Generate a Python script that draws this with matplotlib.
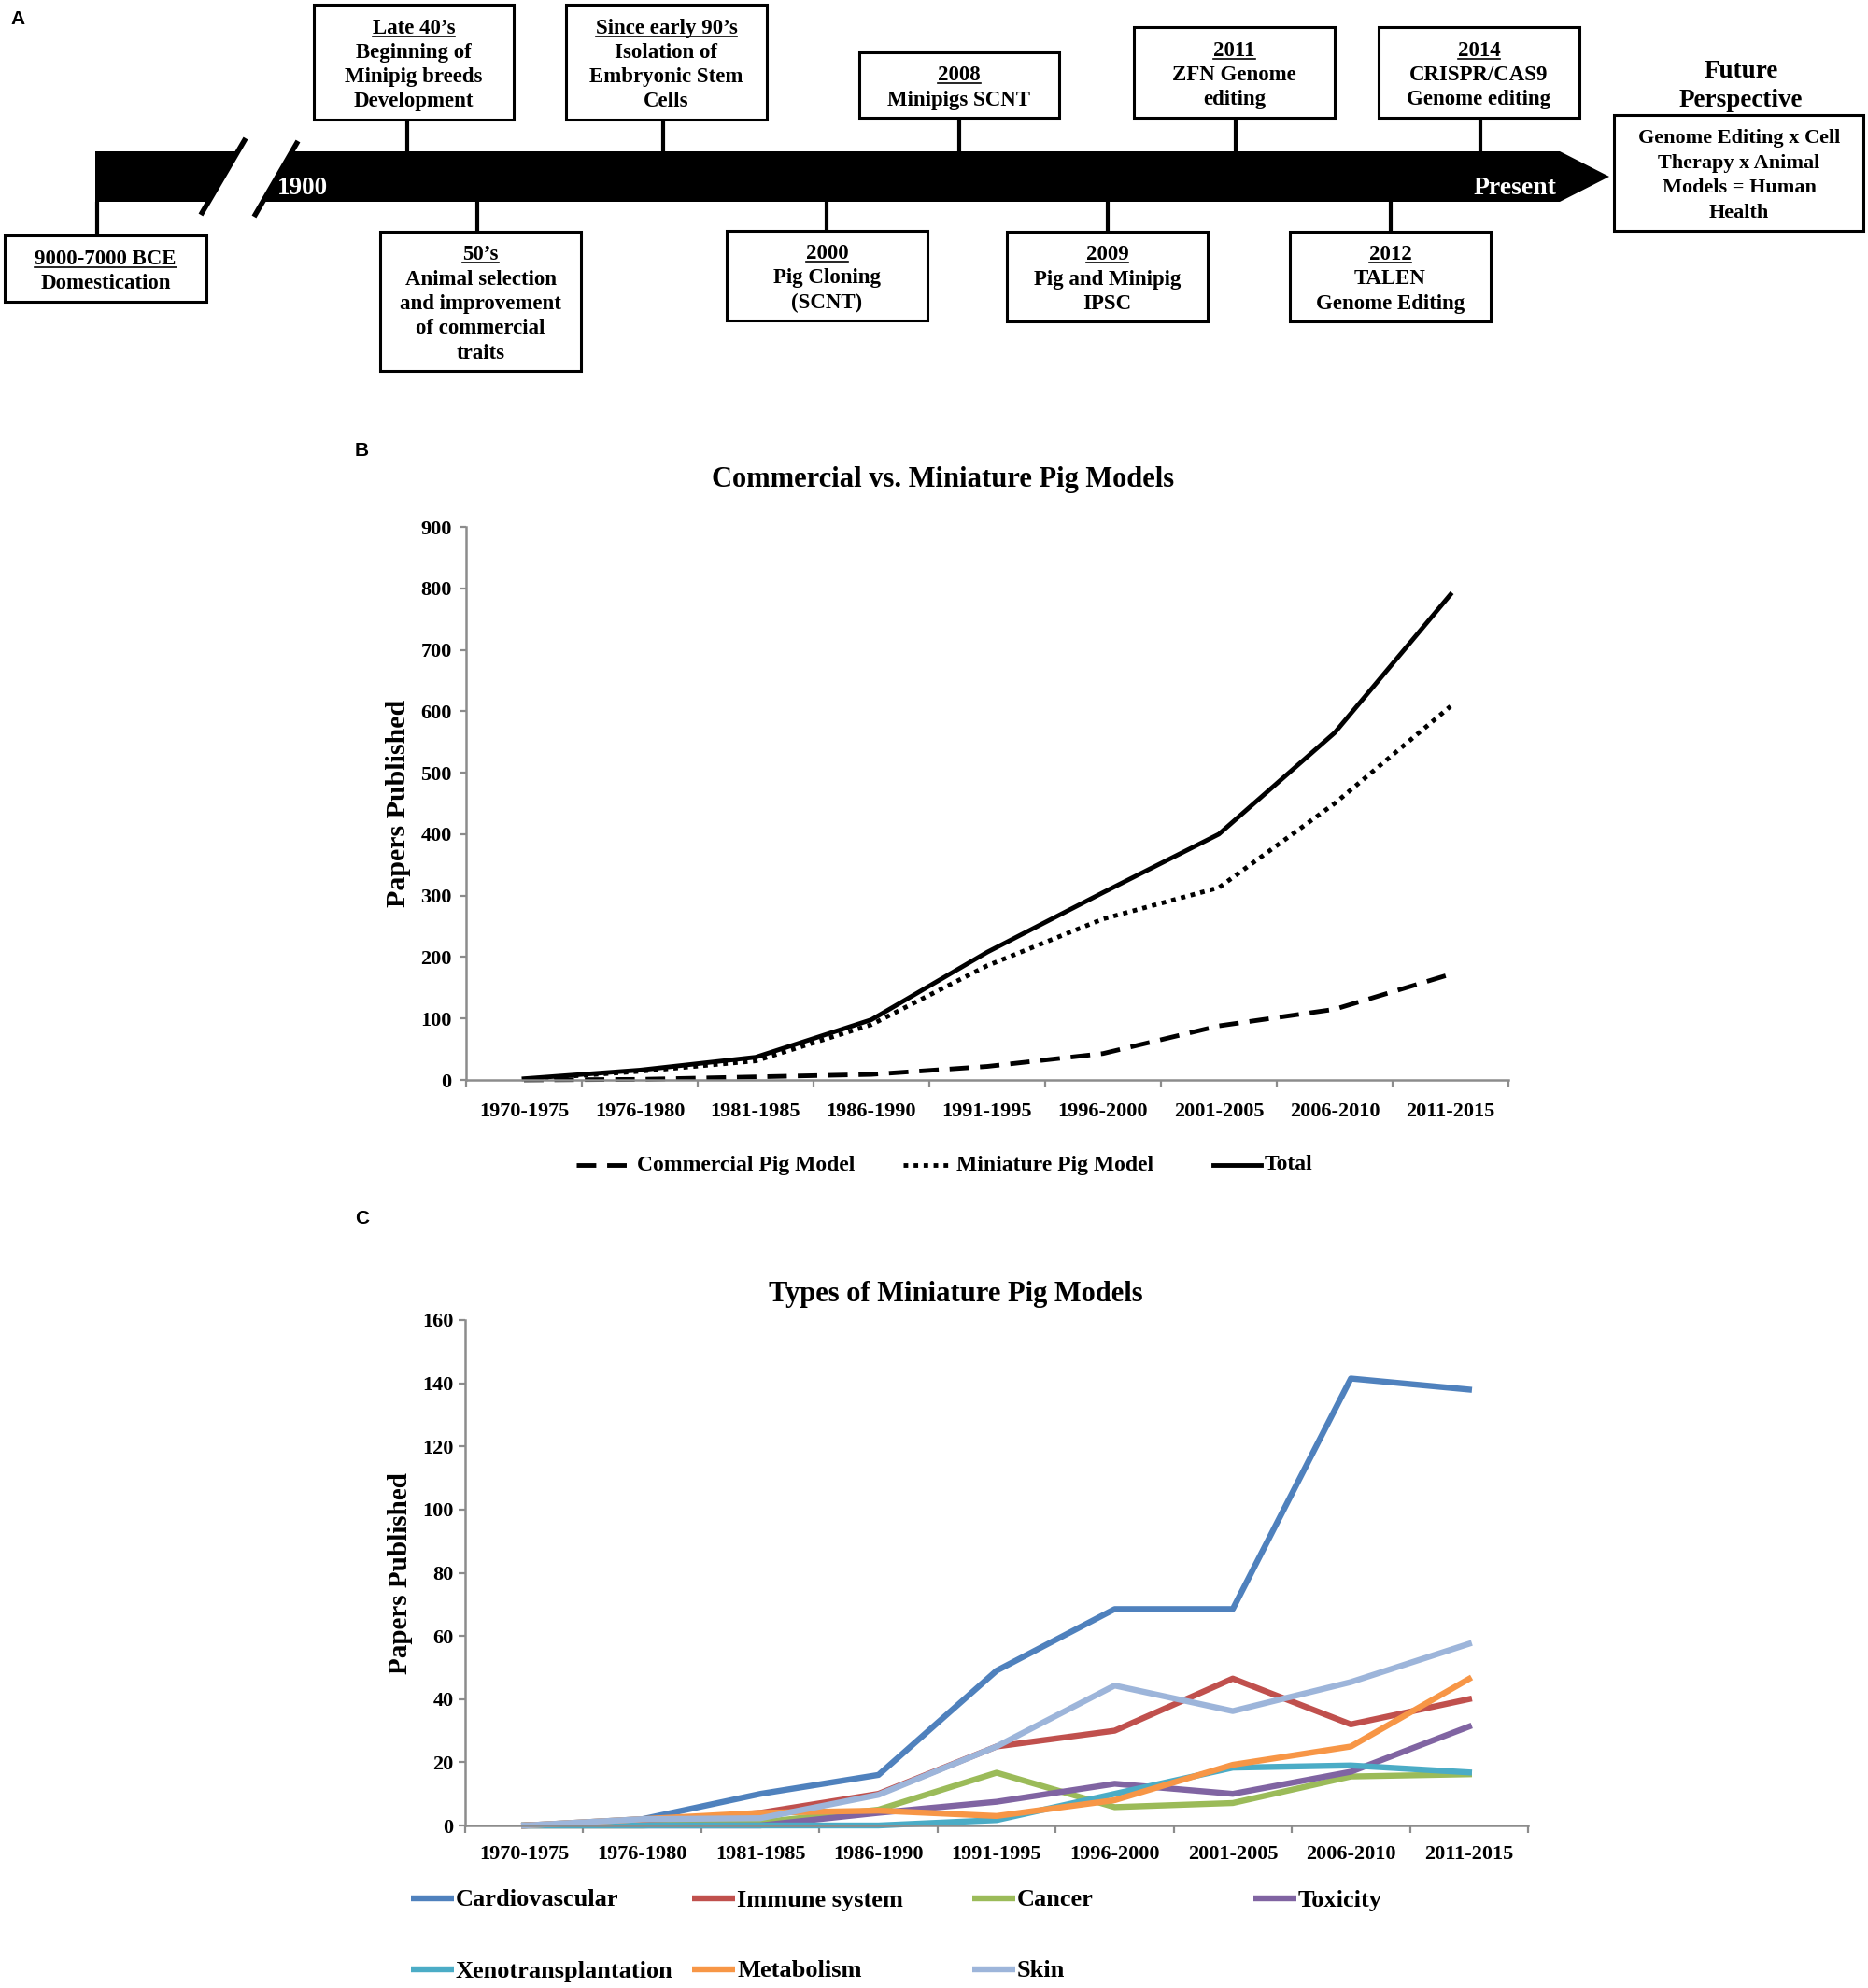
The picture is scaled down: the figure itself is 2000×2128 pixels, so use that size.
import matplotlib
matplotlib.use("Agg")
import matplotlib.pyplot as plt
from matplotlib.patches import Rectangle, Polygon
import numpy as np

plt.rcParams['font.family'] = ['Liberation Serif', 'DejaVu Serif']
plt.rcParams['font.weight'] = 'bold'

# ---------------- data ----------------
periods = ['1970-1975', '1976-1980', '1981-1985', '1986-1990', '1991-1995',
           '1996-2000', '2001-2005', '2006-2010', '2011-2015']

# panel B
commercial = [0, 1, 5, 9, 22, 43, 88, 115, 172]
miniature = [1, 14, 31, 90, 186, 262, 313, 450, 608]
total = [2, 16, 37, 98, 208, 305, 400, 565, 790]
labels_b = ['Commercial Pig Model', 'Miniature Pig Model', 'Total']

# panel C
model_names = ['Cardiovascular', 'Immune system', 'Cancer', 'Toxicity',
               'Xenotransplantation', 'Metabolism', 'Skin']
cardiovascular = [0, 2, 10, 16, 49, 68.5, 68.5, 141.5, 138]
immune = [0, 1, 4, 10, 25, 30, 46.5, 32, 40]
cancer = [0, 0, 1, 5, 16.7, 5.8, 7.1, 15.5, 16.2]
toxicity = [0, 0, 0, 4, 7.5, 13.2, 10, 17, 31.3]
xeno = [0, 0, 0, 0, 1.7, 10, 18.3, 19, 16.8]
metabolism = [0, 2, 4, 4.7, 3, 8, 19.2, 25, 46.4]
skin = [0, 2, 2.3, 9.7, 25, 44.3, 36.2, 45.4, 57.5]
model_values = [cardiovascular, immune, cancer, toxicity, xeno, metabolism, skin]
model_colors = ['#4F81BD', '#C0504D', '#9BBB59', '#8064A2', '#4BACC6', '#F79646', '#9DB5DA']

# panel A timeline
above_heads = ['Late 40\u2019s', 'Since early 90\u2019s', '2008', '2011', '2014']
above_texts = ['Beginning of\nMinipig breeds\nDevelopment',
               'Isolation of\nEmbryonic Stem\nCells',
               'Minipigs SCNT',
               'ZFN Genome\nediting',
               'CRISPR/CAS9\nGenome editing']
below_heads = ['9000-7000 BCE', '50\u2019s', '2000', '2009', '2012']
below_texts = ['Domestication',
               'Animal selection\nand improvement\nof commercial\ntraits',
               'Pig Cloning\n(SCNT)',
               'Pig and Minipig\nIPSC',
               'TALEN\nGenome Editing']
future_title = 'Future\nPerspective'
future_text = 'Genome Editing x Cell\nTherapy x Animal\nModels = Human\nHealth'

# ---------------- layout (pixels) ----------------
W, H = 2000, 2128
above_boxes = [(336, 5, 550, 128, 436), (606, 5, 821, 128, 710), (920, 56, 1134, 126, 1027),
               (1214, 29, 1429, 126, 1323), (1476, 29, 1691, 126, 1585)]
below_boxes = [(5, 252, 221, 323, 104), (407, 248, 622, 397, 511), (778, 247, 993, 343, 885),
               (1078, 248, 1293, 344, 1186), (1381, 248, 1596, 344, 1489)]
bar_top, bar_bot = 162, 216
grey = '#8c8c8c'

fig = plt.figure(figsize=(W / 100, H / 100), dpi=100)
ax0 = fig.add_axes([0, 0, 1, 1])
ax0.set_xlim(0, W)
ax0.set_ylim(H, 0)
ax0.axis('off')

# ---- timeline bar ----
ax0.add_patch(Polygon([(102, bar_top), (253.5, bar_top), (224.5, bar_bot), (102, bar_bot)],
                      closed=True, fc='black', ec='none'))
ax0.add_patch(Polygon([(312.6, bar_top), (1670, bar_top), (1723, 189), (1670, bar_bot),
                       (281.3, bar_bot)], closed=True, fc='black', ec='none'))
ax0.plot([263, 215], [148, 230], color='black', lw=4, solid_capstyle='butt')
ax0.plot([319, 272], [151, 232], color='black', lw=4, solid_capstyle='butt')
ax0.text(297, 208, '1900', color='white', fontsize=19.5, ha='left', va='baseline')
ax0.text(1666, 208, 'Present', color='white', fontsize=20, ha='right', va='baseline')

heads = []


def draw_box(box, head, body, above):
    x0, y0, x1, y1, sx = box
    ax0.add_patch(Rectangle((x0, y0), x1 - x0, y1 - y0, fill=False, lw=2.2, ec='black'))
    if above:
        ax0.plot([sx, sx], [y1, bar_top], color='black', lw=3, solid_capstyle='butt')
    else:
        ax0.plot([sx, sx], [bar_bot, y0], color='black', lw=3, solid_capstyle='butt')
    lines = [head] + body.split('\n')
    n = len(lines)
    cx, cy = (x0 + x1) / 2, (y0 + y1) / 2
    for i, s in enumerate(lines):
        yb = cy + 8.5 + (i - (n - 1) / 2) * 26.3
        t = ax0.text(cx, yb, s, ha='center', va='baseline', fontsize=16.5)
        if i == 0:
            heads.append((t, yb))


for box, h, b in zip(above_boxes, above_heads, above_texts):
    draw_box(box, h, b, True)
for box, h, b in zip(below_boxes, below_heads, below_texts):
    draw_box(box, h, b, False)

# future perspective
ax0.text(1864, 92, future_title, ha='center', va='center', fontsize=19.5, linespacing=1.35)
ax0.add_patch(Rectangle((1728, 123), 267, 124, fill=False, lw=2.2, ec='black'))
for i, s in enumerate(future_text.split('\n')):
    ax0.text(1862, 185 + 8 + (i - 1.5) * 26.4, s, ha='center', va='baseline', fontsize=16)

# panel letters
for lab, (px, py) in zip(['A', 'B', 'C'], [(11, 21), (380, 483), (380, 1304)]):
    ax0.text(px, py, lab, family='Liberation Sans', fontsize=15, fontweight='bold',
             ha='left', va='center')

# ---------------- panel B ----------------
x = np.arange(len(periods))
axB = fig.add_axes([499 / W, 1 - 1156 / H, (1615 - 499) / W, (1156 - 564) / H])
axB.patch.set_alpha(0)
styles_b = [dict(dashes=(4.3, 2.4)), dict(dashes=(1.0, 1.2)), dict()]
for vals, st in zip([commercial, miniature, total], styles_b):
    axB.plot(x, vals, color='black', lw=3.5, clip_on=False, solid_joinstyle='round', **st)
axB.set_xlim(-0.5, len(periods) - 0.5)
axB.set_ylim(0, 900)
axB.set_yticks(range(0, 901, 100))

# ---------------- panel C ----------------
axC = fig.add_axes([498 / W, 1 - 1954 / H, (1636 - 498) / W, (1954 - 1413) / H])
axC.patch.set_alpha(0)
for vals, c in zip(model_values, model_colors):
    axC.plot(x, vals, color=c, lw=4.6, clip_on=False, solid_joinstyle='round')
axC.set_xlim(-0.5, len(periods) - 0.5)
axC.set_ylim(0, 160)
axC.set_yticks(range(0, 161, 20))

for ax, xpad, ypad in [(axB, 17.5, 6), (axC, 15, 4)]:
    ax.set_xticks(x)
    ax.set_xticklabels(periods)
    ax.set_xticks(np.arange(-0.5, len(periods), 1), minor=True)
    ax.tick_params(axis='x', which='major', length=0, pad=xpad, labelsize=16)
    ax.tick_params(axis='x', which='minor', length=6, width=1.6, color=grey, direction='out')
    ax.tick_params(axis='y', length=5, width=1.6, color=grey, pad=ypad, labelsize=16)
    for sp in ['top', 'right']:
        ax.spines[sp].set_visible(False)
    for sp in ['left', 'bottom']:
        ax.spines[sp].set_color(grey)
        ax.spines[sp].set_linewidth(1.8)

# titles and y labels
ax0.text(1010, 513, 'Commercial vs. Miniature Pig Models', ha='center', va='center', fontsize=22)
ax0.text(1023, 1385, 'Types of Miniature Pig Models', ha='center', va='center', fontsize=22)
ax0.text(426, 860, 'Papers Published', rotation=90, ha='center', va='center', fontsize=21.5)
ax0.text(428, 1684, 'Papers Published', rotation=90, ha='center', va='center', fontsize=21)

# legend B
leg_b_pos = [(617, 678), (967, 1020), (1299, 1350)]
for (hx0, hx1), lab, st in zip(leg_b_pos, labels_b, styles_b):
    ax0.plot([hx0, hx1], [1247, 1247], color='black', lw=3.5, **st)
    ax0.text(hx1 + 4, 1247, lab, ha='left', va='center', fontsize=17)

# legend C
col_x = [440, 741, 1041, 1342]
row_y = [2032, 2108]
for i, (lab, c) in enumerate(zip(model_names, model_colors)):
    hx = col_x[i % 4]
    hy = row_y[i // 4]
    ax0.plot([hx, hx + 46], [hy, hy], color=c, lw=4.6, solid_capstyle='butt')
    ax0.text(hx + 48, hy + 2, lab, ha='left', va='center', fontsize=19)

# underline first line of each timeline box
fig.canvas.draw()
renderer = fig.canvas.get_renderer()
for t, yb in heads:
    bb = t.get_window_extent(renderer=renderer)
    ax0.plot([bb.x0, bb.x1], [yb + 3, yb + 3], color='black', lw=1.2)

fig.savefig('out.png', dpi=100)
